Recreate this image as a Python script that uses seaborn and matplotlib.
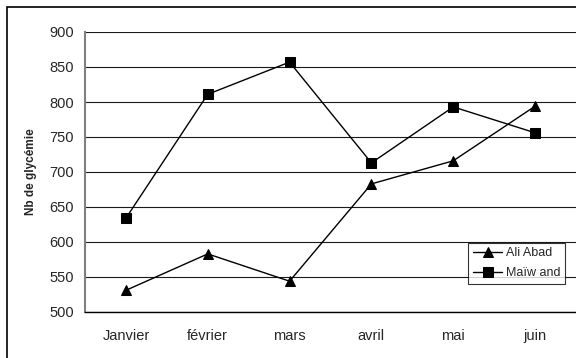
import matplotlib
matplotlib.use("Agg")
import matplotlib.pyplot as plt
from matplotlib.patches import Rectangle
import seaborn as sns
import pandas as pd

months = ["Janvier", "février", "mars", "avril", "mai", "juin"]
ali_abad = [531, 583, 544, 683, 716, 794]
maiwand = [634, 811, 857, 713, 793, 756]
series_names = ["Ali Abad", "Maïw and"]
y_ticks = [500, 550, 600, 650, 700, 750, 800, 850, 900]

sns.set_theme(style="white")
plt.rcParams["font.family"] = ["Liberation Sans", "DejaVu Sans"]

df = pd.DataFrame({
    "mois": months * 2,
    "pos": list(range(len(months))) * 2,
    "valeur": ali_abad + maiwand,
    "site": [series_names[0]] * len(months) + [series_names[1]] * len(months),
})

fig = plt.figure(figsize=(5.76, 3.58), dpi=100)
ax = fig.add_axes([85 / 576, 1 - 312 / 358, 491 / 576, 280 / 358])

# outer chart frame
fig.patches.append(Rectangle((6.5 / 576, -0.05), 1.2, 1 - 6.5 / 358 + 0.05,
                             transform=fig.transFigure, fill=False,
                             edgecolor="black", linewidth=1.2, zorder=0))

sns.lineplot(data=df, x="pos", y="valeur", hue="site", style="site",
             markers={series_names[0]: "^", series_names[1]: "s"},
             dashes=False, palette={series_names[0]: "black", series_names[1]: "black"},
             markersize=7.5, markeredgecolor="black", linewidth=1, ax=ax)

ax.set_xlim(-0.5, len(months) - 0.5)
ax.set_ylim(500, 900)
ax.set_yticks(y_ticks)
ax.set_yticklabels([str(v) for v in y_ticks], fontsize=10.5)
ax.yaxis.grid(True, color="#1a1a1a", linewidth=0.8)
ax.set_axisbelow(True)

# category labels at centres, tick marks on the boundaries
ax.set_xticks(range(len(months)))
ax.set_xticklabels(months, fontsize=10.5)
ax.set_xticks([i - 0.5 for i in range(len(months) + 1)], minor=True)
ax.tick_params(axis="x", which="major", length=0, pad=12)
ax.tick_params(axis="x", which="minor", length=9, width=0.9, direction="inout", color="black")
ax.tick_params(axis="y", which="major", length=5, width=0.9, direction="out", color="black", pad=3)

ax.set_xlabel("")
ax.set_ylabel("Nb de glycémie", fontsize=8.5, fontweight="bold", labelpad=9)

for side in ("top", "right"):
    ax.spines[side].set_visible(False)
ax.spines["left"].set_color("#808080")
ax.spines["left"].set_linewidth(1.5)
ax.spines["bottom"].set_color("black")
ax.spines["bottom"].set_linewidth(1)

leg = ax.legend(loc="lower right", bbox_to_anchor=(0.978, 0.1), borderaxespad=0,
                fontsize=9, frameon=True, fancybox=False, edgecolor="black",
                handlelength=2.3, handletextpad=0.3, borderpad=0.4, labelspacing=0.6)
leg.get_frame().set_linewidth(0.8)

fig.savefig("out.png", dpi=100, facecolor="white")
